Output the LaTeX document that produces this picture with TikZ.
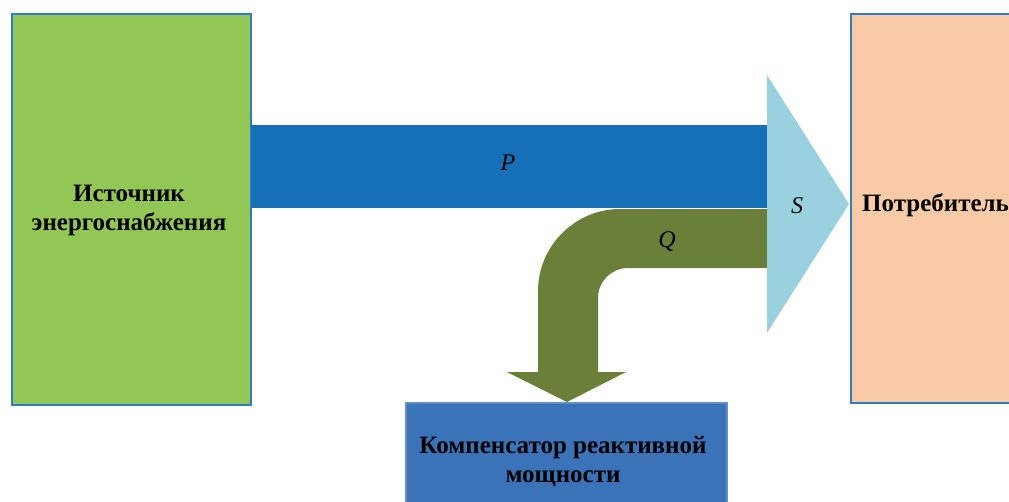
\documentclass[tikz,border=0pt]{standalone}
\usepackage{fontspec}
\setmainfont{Liberation Serif}
\definecolor{srcgreen}{HTML}{92C756}
\definecolor{pblue}{HTML}{1570B8}
\definecolor{sblue}{HTML}{99D1DF}
\definecolor{qgreen}{HTML}{6A7F38}
\definecolor{cons}{HTML}{F8CBA6}
\definecolor{compblue}{HTML}{3B73B9}
\definecolor{edge}{HTML}{2E7BCB}
\begin{document}
\begin{tikzpicture}[x=1pt,y=-1pt,
  box/.style={draw=edge, line width=2pt, anchor=north west, inner sep=0pt,
    align=center, font=\fontsize{25}{29}\selectfont\bfseries},
  txt/.style={font=\fontsize{25}{29}\selectfont\bfseries, inner sep=0pt, align=center},
  lbl/.style={font=\fontsize{24}{29}\selectfont\itshape, inner sep=0pt}]
\useasboundingbox (0,0) rectangle (1009,501);
\clip (0,0) rectangle (1009,501);
% boxes
\node[box, fill=srcgreen, minimum width=239pt, minimum height=391pt] (src) at (11,13) {};
\node[txt] (srctext) at (129,210) {Источник\\энергоснабжения};
\node[box, fill=cons, minimum width=200pt, minimum height=389pt] (cons) at (850,13) {};
\node[box, fill=compblue, draw=compblue!80!white, minimum width=321pt, minimum height=120pt] (comp) at (405,402) {};
\node[txt] (comptext) at (563,462) {Компенсатор реактивной\\мощности};
\node[txt, anchor=west] (constext) at (862,205) {Потребитель};
% P band
\coordinate (pa) at (251,125);
\coordinate (pb) at (767,208);
\fill[pblue] (pa) rectangle (pb);
% Q arrow
\fill[qgreen] (767,209) -- (620,209) .. controls (575,209) and (538,246) .. (538,291)
  -- (538,372) -- (507,372) -- (567,402) -- (626,372) -- (598,372) -- (598,298)
  .. controls (598,281.4) and (611.4,268) .. (628,268) -- (767,268) -- cycle;
% S arrowhead
\coordinate (st) at (767,75);
\coordinate (sb) at (767,333);
\coordinate (stip) at (849,204);
\fill[sblue] (st) -- (stip) -- (sb) -- cycle;
% labels
\node[lbl] (P) at (508,163) {P};
\node[lbl] (Q) at (667,241) {Q};
\node[lbl] (S) at (797,206) {S};
\end{tikzpicture}
\end{document}
